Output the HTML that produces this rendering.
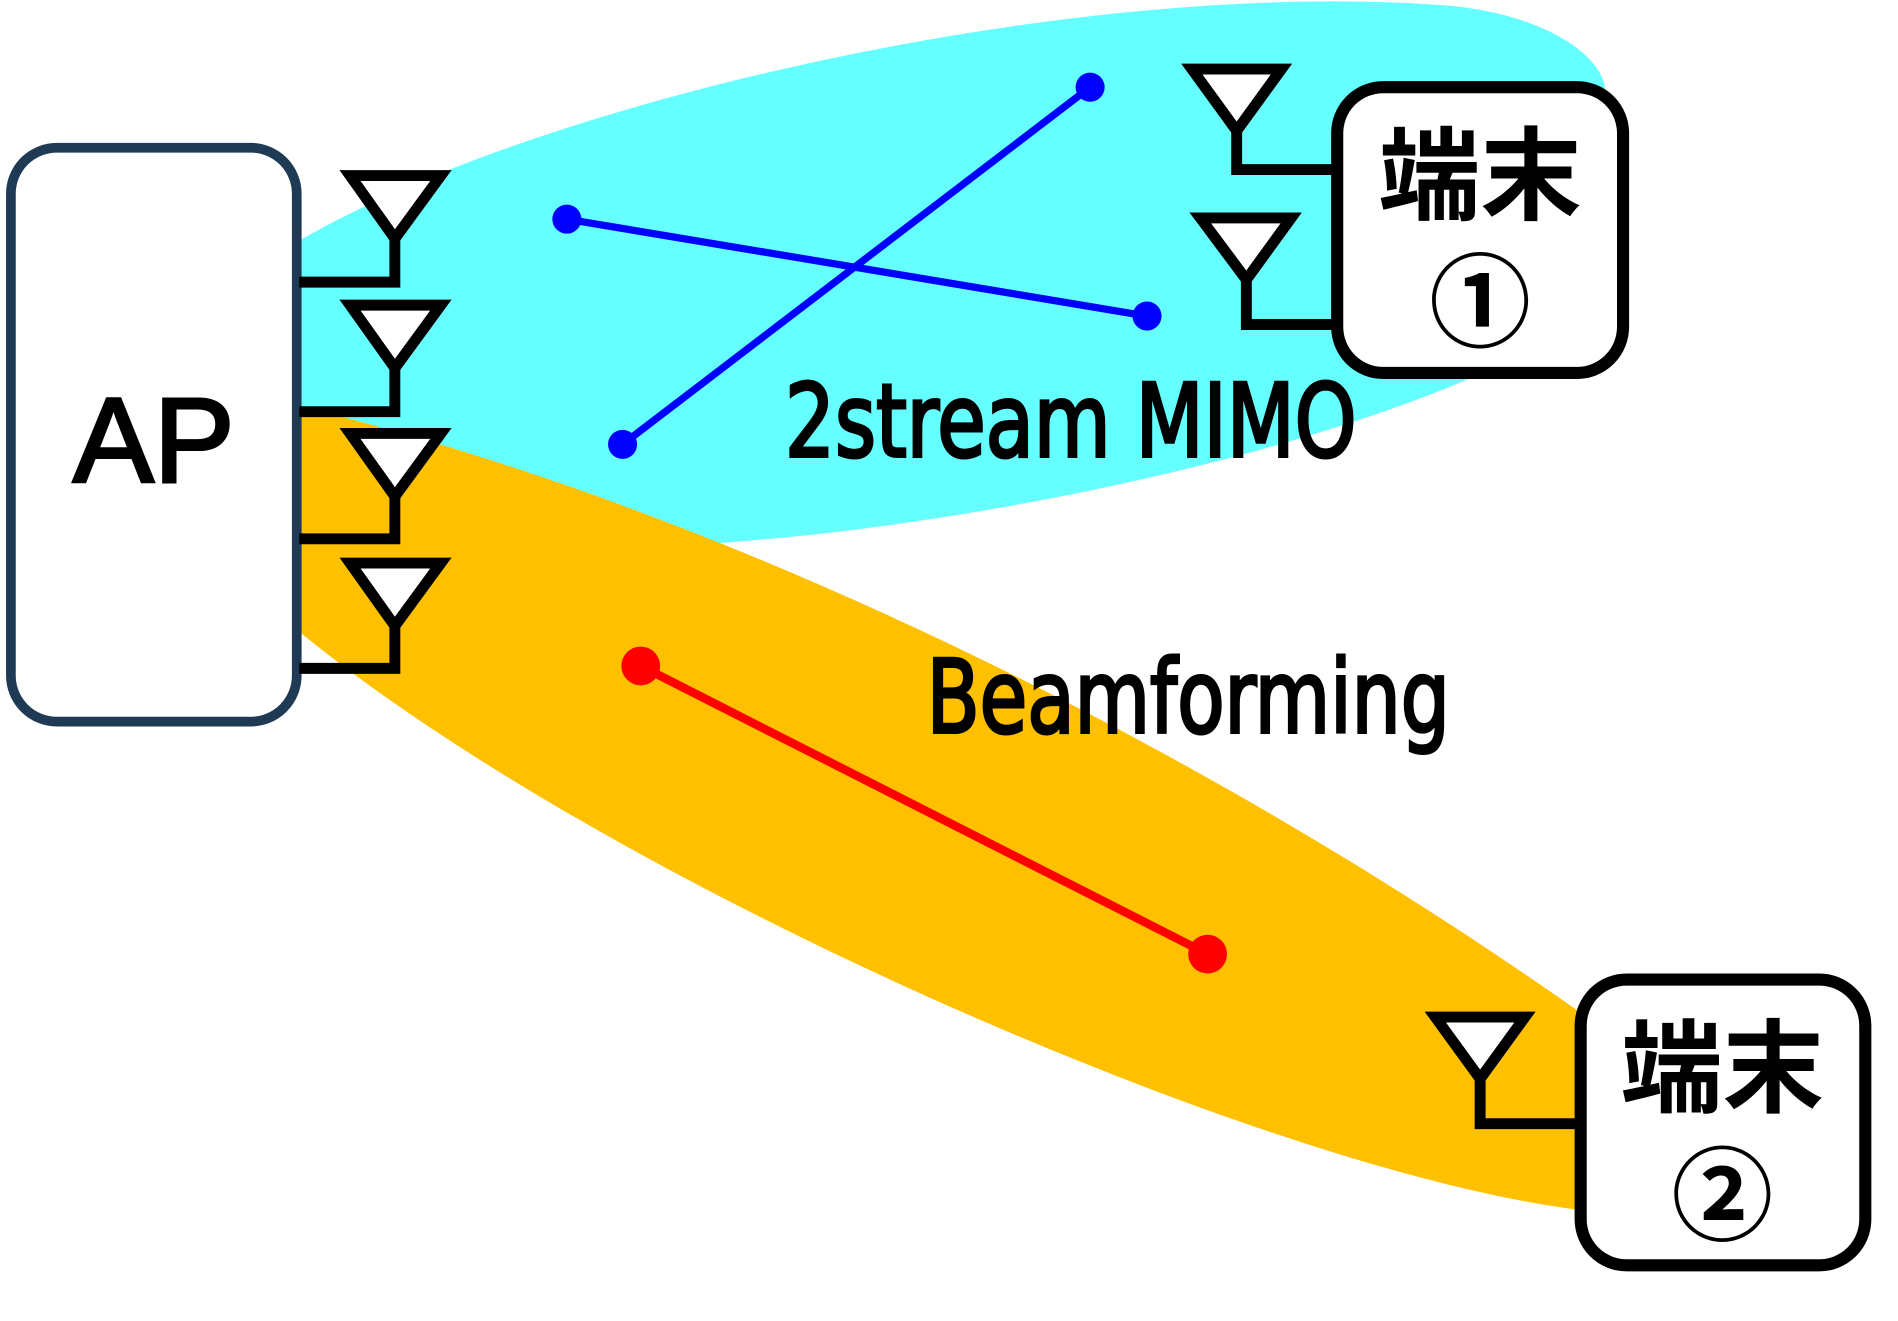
<!DOCTYPE html>
<html><head><meta charset="utf-8"><style>html,body{margin:0;padding:0;background:#fff;}svg{display:block}</style></head>
<body>
<svg width="1898" height="1321" viewBox="0 0 1567 1091" preserveAspectRatio="none" xmlns="http://www.w3.org/2000/svg">
<path d="M245,200 C450,80 900,-20 1200,5 C1290,15 1330,55 1325,80 L1325,250 C1200,350 850,430 600,448 C450,460 300,420 245,400 Z" fill="#66ffff"/>
<path d="M245,335 C600,420 1000,620 1310,840 L1310,1000 C1050,970 500,730 245,520 Z" fill="#ffc000"/>
<rect x="9" y="122" width="236" height="474" rx="38" fill="#fff" stroke="#1f3a55" stroke-width="8"/>
<text x="127" y="398" font-family="Liberation Sans, sans-serif" font-size="100" text-anchor="middle" stroke="#000" stroke-width="2.5">AP</text>
<g stroke="#000" stroke-width="9" fill="none">
<path d="M247,233 H326 V192"/><path d="M247,340 H326 V299"/><path d="M247,445 H326 V406"/><path d="M247,552 H326 V513"/>
<path d="M1103,140 H1021 V100"/><path d="M1107,268 H1029 V225"/><path d="M1303,928 H1222 V885"/>
</g>
<g stroke="#000" stroke-width="9" fill="#fff">
<path d="M289,145 H364 L326,197 Z"/><path d="M289,252 H364 L326,304 Z"/><path d="M289,358 H364 L326,410 Z"/><path d="M289,465 H364 L326,517 Z"/>
<path d="M984,57 H1058 L1021,108 Z"/><path d="M991,180 H1066 L1029,231 Z"/><path d="M1185,840 H1259 L1222,891 Z"/>
</g>
<rect x="1104" y="72" width="236" height="236" rx="38" fill="#fff" stroke="#000" stroke-width="10"/>
<rect x="1305" y="809" width="235" height="236" rx="38" fill="#fff" stroke="#000" stroke-width="10"/>
<g font-family="Liberation Sans, Noto Sans CJK JP, sans-serif" font-size="84" text-anchor="middle" font-weight="bold">
<text x="1222" y="175">端末</text>
<text x="1222" y="280">①</text>
<text x="1422" y="912">端末</text>
<text x="1422" y="1018">②</text>
</g>
<g stroke="#0000ff" stroke-width="6"><line x1="468" y1="181" x2="947" y2="261"/><line x1="514" y1="367" x2="900" y2="72"/></g>
<g fill="#0000ff"><circle cx="468" cy="181" r="12"/><circle cx="947" cy="261" r="12"/><circle cx="514" cy="367" r="12"/><circle cx="900" cy="72" r="12"/></g>
<line x1="529" y1="550" x2="997" y2="788" stroke="#ff0000" stroke-width="7"/>
<circle cx="529" cy="550" r="16" fill="#f00"/><circle cx="997" cy="788" r="16" fill="#f00"/>
<g font-family="DejaVu Sans Condensed, DejaVu Sans, sans-serif" font-size="84" stroke="#000" stroke-width="2.5">
<text x="648" y="377" textLength="472" lengthAdjust="spacingAndGlyphs">2stream MIMO</text>
<text x="765" y="605" textLength="432" lengthAdjust="spacingAndGlyphs">Beamforming</text>
</g>
</svg>
</body></html>
